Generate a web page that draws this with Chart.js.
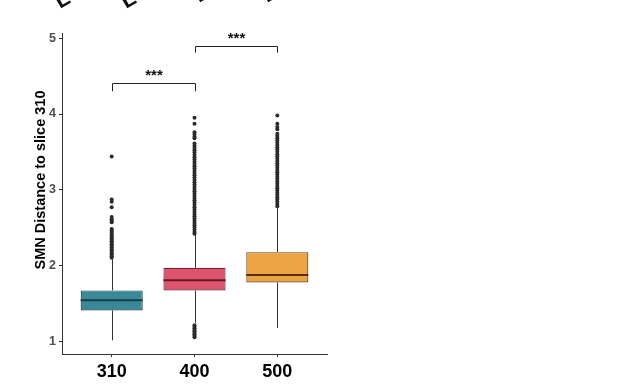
<!DOCTYPE html>
<html>
<head>
<meta charset="utf-8">
<script src="https://cdn.jsdelivr.net/npm/chart.js@4.4.1/dist/chart.umd.min.js"></script>
<style>
  body { margin: 0; background: #fff; }
</style>
</head>
<body>
<canvas id="myChart" width="638" height="390"></canvas>
<script>
// slices on the x axis
const categories = ['310', '400', '500']
const xPos = [1, 2, 3]

// box summary
const q1 = [1.405, 1.67, 1.775]
const median = [1.54, 1.805, 1.875]
const q3 = [1.67, 1.97, 2.175]
const whiskerLow = [1.01, 1.24, 1.175]
const whiskerHigh = [2.08, 2.41, 2.77]

// outlier points per slice
const outliers310 = [2.10, 2.12, 2.14, 2.16, 2.18, 2.20, 2.22, 2.24, 2.26, 2.28, 2.30, 2.32, 2.34, 2.36, 2.38, 2.40, 2.42, 2.44, 2.46, 2.48,
  2.57, 2.59, 2.61, 2.64, 2.77, 2.84, 2.87, 3.44]
const outliers400 = [1.05, 1.07, 1.09, 1.11, 1.13, 1.15, 1.17, 1.19, 1.21,
  2.42, 2.44, 2.47, 2.50, 2.53, 2.56, 2.59, 2.62, 2.65, 2.68, 2.71, 2.74, 2.77, 2.80, 2.83, 2.86, 2.89, 2.92, 2.95, 2.98,
  3.01, 3.04, 3.07, 3.10, 3.13, 3.16, 3.19, 3.22, 3.25, 3.28, 3.31, 3.34, 3.37, 3.40, 3.43, 3.46, 3.49, 3.52, 3.55, 3.58, 3.61,
  3.68, 3.70, 3.73, 3.76, 3.87, 3.95]
const outliers500 = [2.78, 2.81, 2.84, 2.87, 2.90, 2.93, 2.96, 2.99, 3.02, 3.05, 3.08, 3.11, 3.14, 3.17, 3.20, 3.23, 3.26, 3.29,
  3.32, 3.35, 3.38, 3.41, 3.44, 3.47, 3.50, 3.53, 3.56, 3.59, 3.62, 3.65, 3.68, 3.71, 3.74,
  3.80, 3.83, 3.87, 3.98]

// significance brackets
const bracketFrom = [1, 2]
const bracketTo = [2, 3]
const bracketY = [4.41, 4.90]
const bracketTip = [4.30, 4.81]
const bracketLabel = ['***', '***']

// y axis ticks
const yTicks = [1, 2, 3, 4, 5]

// cut-off labels of the panel above (only their lower corners show)
const topLabels = ['L4', 'L4', 'L', 'L']

const fillColors = ['#3A8999', '#DD546E', '#ECA444']
const borderColors = ['#1F4A55', '#762233', '#74461A']
const medianColors = ['#183C45', '#6A1426', '#5A2C05']

const outlierData = [outliers310, outliers400, outliers500]
const scatterSets = outlierData.map((vals, i) => ({
  type: 'scatter',
  data: vals.map(v => ({ x: xPos[i], y: v })),
  pointRadius: 2,
  pointBackgroundColor: '#2b2b2b',
  pointBorderWidth: 0,
  order: 2
}))

// whiskers, medians, brackets and y title
const boxExtras = {
  id: 'boxExtras',
  beforeDatasetsDraw(chart) {
    const ctx = chart.ctx
    const xs = chart.scales.x, ys = chart.scales.y
    ctx.save()
    ctx.strokeStyle = '#333'
    ctx.lineWidth = 1
    for (let i = 0; i < categories.length; i++) {
      const x = Math.round(xs.getPixelForValue(xPos[i])) + 0.5
      ctx.beginPath()
      ctx.moveTo(x, ys.getPixelForValue(whiskerLow[i]))
      ctx.lineTo(x, ys.getPixelForValue(q1[i]))
      ctx.moveTo(x, ys.getPixelForValue(q3[i]))
      ctx.lineTo(x, ys.getPixelForValue(whiskerHigh[i]))
      ctx.stroke()
    }
    ctx.restore()
  },
  afterDatasetsDraw(chart) {
    const ctx = chart.ctx
    const xs = chart.scales.x, ys = chart.scales.y
    const meta = chart.getDatasetMeta(0)
    ctx.save()
    for (let i = 0; i < categories.length; i++) {
      const bar = meta.data[i]
      const y = ys.getPixelForValue(median[i])
      ctx.strokeStyle = medianColors[i]
      ctx.lineWidth = 2
      ctx.beginPath()
      ctx.moveTo(bar.x - bar.width / 2, y)
      ctx.lineTo(bar.x + bar.width / 2, y)
      ctx.stroke()
    }
    ctx.strokeStyle = '#222'
    ctx.lineWidth = 1
    ctx.fillStyle = '#111'
    ctx.font = 'bold 15px "Liberation Sans", Arial, sans-serif'
    ctx.textAlign = 'center'
    ctx.textBaseline = 'alphabetic'
    for (let j = 0; j < bracketY.length; j++) {
      const x1 = Math.round(xs.getPixelForValue(bracketFrom[j])) + 0.5
      const x2 = Math.round(xs.getPixelForValue(bracketTo[j])) + 0.5
      const y = Math.round(ys.getPixelForValue(bracketY[j])) + 0.5
      const t = ys.getPixelForValue(bracketTip[j])
      ctx.beginPath()
      ctx.moveTo(x1, t)
      ctx.lineTo(x1, y)
      ctx.lineTo(x2, y)
      ctx.lineTo(x2, t)
      ctx.stroke()
      ctx.fillText(bracketLabel[j], (x1 + x2) / 2, y - 4)
    }
    // y axis title
    ctx.save()
    ctx.translate(41, 180)
    ctx.rotate(-Math.PI / 2)
    ctx.fillStyle = '#000'
    ctx.font = 'bold 14.5px "Liberation Sans", Arial, sans-serif'
    ctx.textBaseline = 'middle'
    ctx.fillText('SMN Distance to slice 310', 0, 0)
    ctx.restore()

    // clipped labels at the very top
    const corners = [[60, 9], [126, 9], [199, 3], [267, 3]]
    ctx.fillStyle = '#111'
    ctx.font = 'bold 22px "Liberation Sans", Arial, sans-serif'
    ctx.textAlign = 'left'
    topLabels.forEach((t, k) => {
      ctx.save()
      ctx.translate(corners[k][0], corners[k][1])
      ctx.rotate(-Math.PI / 6)
      ctx.fillText(t, 0, 0)
      ctx.restore()
    })
    ctx.restore()
  }
}

const ctx = document.getElementById('myChart').getContext('2d')
const myChart = new Chart(ctx, {
  data: {
    datasets: [{
      type: 'bar',
      data: xPos.map((x, i) => ({ x: x, y: [q1[i], q3[i]] })),
      backgroundColor: fillColors,
      borderColor: borderColors,
      borderWidth: 1.2,
      borderSkipped: false,
      categoryPercentage: 1,
      barPercentage: 0.75,
      order: 1
    }, ...scatterSets]
  },
  options: {
    responsive: false,
    animation: false,
    layout: { padding: { left: 0, top: 33, right: 311, bottom: 0 } },
    plugins: { legend: { display: false }, tooltip: { enabled: false } },
    scales: {
      x: {
        type: 'linear',
        min: 0.4,
        max: 3.6,
        offset: false,
        afterBuildTicks: s => { s.ticks = xPos.map(v => ({ value: v })) },
        afterFit: s => { s.height = 36 },
        ticks: {
          callback: (v) => categories[xPos.indexOf(v)],
          color: '#000',
          font: { family: '"Liberation Sans", Arial, sans-serif', size: 18, weight: 'bold' },
          padding: 4,
          maxRotation: 0
        },
        grid: { offset: false, drawOnChartArea: false, drawTicks: true, tickLength: 3, color: '#333' },
        border: { display: true, color: '#333', width: 1 }
      },
      y: {
        min: 0.83,
        max: 5.07,
        afterBuildTicks: s => { s.ticks = yTicks.map(v => ({ value: v })) },
        afterFit: s => { s.width = 62 },
        ticks: {
          color: '#4D4D4D',
          font: { family: '"Liberation Sans", Arial, sans-serif', size: 12.5, weight: 'bold' },
          padding: 3
        },
        grid: { drawOnChartArea: false, drawTicks: true, tickLength: 3, color: '#333' },
        border: { display: true, color: '#333', width: 1 }
      }
    }
  },
  plugins: [boxExtras]
})
</script>
</body>
</html>
